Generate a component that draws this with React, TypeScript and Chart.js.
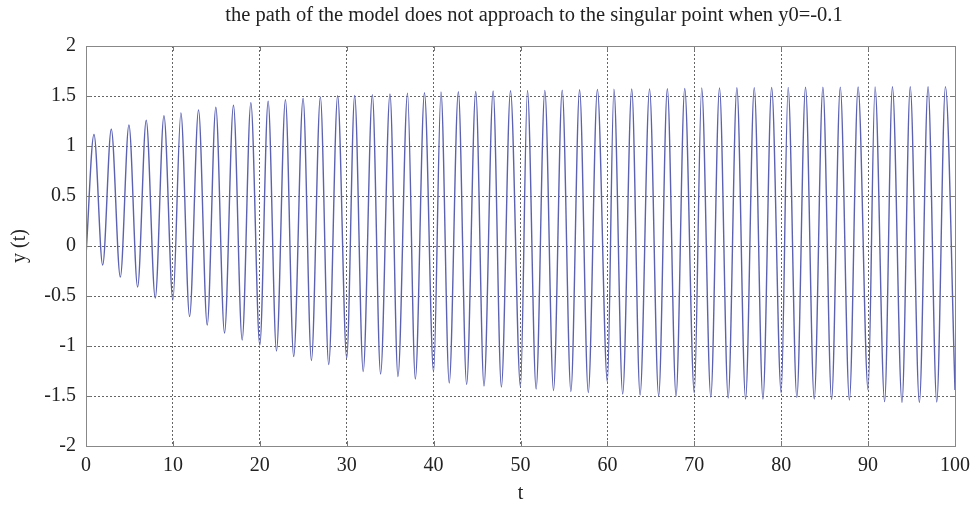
import React, { useEffect, useRef } from "react";
import { Chart, registerables } from "chart.js";

Chart.register(...registerables);

const titleText = "the path of the model does not approach to the singular point when y0=-0.1";
const xTitle = "t";
const yTitle = "y (t)";

const startT = 0;
const startY = -0.1;

const peakT = [
  0.92, 2.91, 4.94, 6.93, 8.97, 10.92, 12.95, 14.94, 16.97, 18.97,
  20.96, 22.95, 24.98, 26.97, 28.96, 30.92, 32.95, 34.98, 37.0, 38.95,
  40.85, 42.85, 44.85, 46.85, 48.85, 50.8, 52.8, 54.8, 56.8, 58.85,
  60.75, 62.8, 64.85, 66.9, 68.9, 70.85, 72.9, 74.9, 76.9, 78.9,
  80.8, 82.8, 84.8, 86.8, 88.85, 90.8, 92.8, 94.85, 96.9, 98.9,
];
const peakY = [
  1.115, 1.168, 1.211, 1.258, 1.304, 1.331, 1.361, 1.388, 1.408, 1.434,
  1.448, 1.464, 1.478, 1.491, 1.503, 1.505, 1.513, 1.52, 1.527, 1.533,
  1.54, 1.543, 1.545, 1.55, 1.553, 1.555, 1.556, 1.558, 1.563, 1.566,
  1.567, 1.57, 1.571, 1.573, 1.575, 1.58, 1.581, 1.582, 1.584, 1.585,
  1.586, 1.587, 1.588, 1.589, 1.59, 1.591, 1.592, 1.592, 1.593, 1.594,
];
const troughT = [
  1.92, 3.95, 5.94, 7.97, 10.0, 11.92, 13.95, 15.94, 17.97, 20.0,
  21.92, 23.9, 25.94, 27.93, 30.0, 31.9, 33.9, 35.9, 37.9, 40.0,
  41.8, 43.8, 45.8, 47.8, 50.0, 51.8, 53.8, 55.8, 57.8, 60.0,
  61.76, 63.76, 65.9, 67.9, 70.0, 71.9, 73.9, 75.9, 77.9, 80.0,
  81.8, 83.8, 85.8, 87.85, 90.0, 91.9, 93.9, 95.9, 97.9, 100.0,
];
const troughY = [
  -0.19, -0.31, -0.41, -0.52, -0.54, -0.705, -0.79, -0.87, -0.94, -0.99,
  -1.05, -1.105, -1.145, -1.185, -1.12, -1.255, -1.28, -1.305, -1.33, -1.26,
  -1.37, -1.385, -1.4, -1.41, -1.41, -1.43, -1.445, -1.455, -1.465, -1.36,
  -1.48, -1.49, -1.5, -1.5, -1.47, -1.51, -1.52, -1.53, -1.53, -1.47,
  -1.515, -1.53, -1.535, -1.54, -1.44, -1.556, -1.565, -1.565, -1.56, -1.44,
];

const xTicks = [0, 10, 20, 30, 40, 50, 60, 70, 80, 90, 100];
const xTickLabels = ["0", "10", "20", "30", "40", "50", "60", "70", "80", "90", "100"];
const yTicks = [-2, -1.5, -1, -0.5, 0, 0.5, 1, 1.5, 2];
const yTickLabels = ["-2", "-1.5", "-1", "-0.5", "0", "0.5", "1", "1.5", "2"];

const FONT = "'Liberation Serif', 'DejaVu Serif', serif";

export default function App() {
  const ref = useRef<HTMLCanvasElement | null>(null);

  useEffect(() => {
    document.body.style.margin = "0";
    const canvas = ref.current;
    if (!canvas) return;

    const points: { x: number; y: number }[] = [{ x: startT, y: startY }];
    for (let i = 0; i < peakT.length; i++) {
      points.push({ x: peakT[i], y: peakY[i] });
      if (i < troughT.length) points.push({ x: troughT[i], y: troughY[i] });
    }

    const framePlugin = {
      id: "framePlugin",
      afterDraw(chart: any) {
        const { ctx, chartArea: a, scales } = chart;
        ctx.save();
        ctx.strokeStyle = "#777";
        ctx.lineWidth = 1;
        const tl = 5;
        ctx.beginPath();
        xTicks.forEach((v) => {
          const px = Math.round(scales.x.getPixelForValue(v)) + 0.5;
          ctx.moveTo(px, a.bottom);
          ctx.lineTo(px, a.bottom - tl);
          ctx.moveTo(px, a.top);
          ctx.lineTo(px, a.top + tl);
        });
        yTicks.forEach((v) => {
          const py = Math.round(scales.y.getPixelForValue(v)) + 0.5;
          ctx.moveTo(a.left, py);
          ctx.lineTo(a.left + tl, py);
          ctx.moveTo(a.right, py);
          ctx.lineTo(a.right - tl, py);
        });
        ctx.stroke();
        ctx.strokeStyle = "#888";
        ctx.strokeRect(
          Math.round(a.left) + 0.5,
          Math.round(a.top) + 0.5,
          Math.round(a.right - a.left),
          Math.round(a.bottom - a.top)
        );
        ctx.fillStyle = "#222";
        ctx.font = `20.5px ${FONT}`;
        ctx.textAlign = "center";
        ctx.textBaseline = "middle";
        ctx.fillText(titleText, 534, 16);
        ctx.restore();
      },
    };

    const chart = new Chart(canvas, {
      type: "line",
      data: {
        datasets: [
          {
            data: points,
            borderColor: "rgb(92, 98, 178)",
            borderWidth: 1.4,
            pointRadius: 0,
            fill: false,
            cubicInterpolationMode: "monotone",
          },
        ],
      },
      options: {
        animation: false,
        responsive: false,
        layout: { padding: { top: 46, right: 16, left: 0, bottom: 0 } },
        plugins: {
          legend: { display: false },
          tooltip: { enabled: false },
          title: { display: false },
        },
        scales: {
          x: {
            type: "linear",
            min: 0,
            max: 100,
            afterBuildTicks: (s: any) => {
              s.ticks = xTicks.map((v) => ({ value: v }));
            },
            afterFit: (s: any) => {
              s.height = 62;
              s.paddingLeft = 0;
              s.paddingRight = 0;
            },
            ticks: {
              autoSkip: false,
              maxRotation: 0,
              padding: 8,
              color: "#222",
              font: { family: FONT, size: 20 },
              callback: (v: any) => {
                const i = xTicks.indexOf(Number(v));
                return i >= 0 ? xTickLabels[i] : "";
              },
            },
            grid: { color: "#666", lineWidth: 1, drawTicks: false },
            border: { display: false, dash: [2, 2] },
            title: {
              display: true,
              text: xTitle,
              color: "#222",
              font: { family: FONT, size: 20 },
              padding: { top: 0, bottom: 2 },
            },
          },
          y: {
            type: "linear",
            min: -2,
            max: 2,
            afterBuildTicks: (s: any) => {
              s.ticks = yTicks.map((v) => ({ value: v }));
            },
            afterFit: (s: any) => {
              s.width = 86;
            },
            ticks: {
              autoSkip: false,
              padding: 10,
              color: "#222",
              font: { family: FONT, size: 20 },
              callback: (v: any) => {
                const i = yTicks.indexOf(Number(v));
                return i >= 0 ? yTickLabels[i] : "";
              },
            },
            grid: { color: "#666", lineWidth: 1, drawTicks: false },
            border: { display: false, dash: [2, 2] },
            title: {
              display: true,
              text: yTitle,
              color: "#222",
              font: { family: FONT, size: 20 },
              padding: { top: 8, bottom: 0 },
            },
          },
        },
      },
      plugins: [framePlugin],
    } as any);

    return () => {
      chart.destroy();
    };
  }, []);

  return (
    <div style={{ width: 971, height: 508 }}>
      <canvas ref={ref} width={971} height={508} style={{ display: "block" }} />
    </div>
  );
}
